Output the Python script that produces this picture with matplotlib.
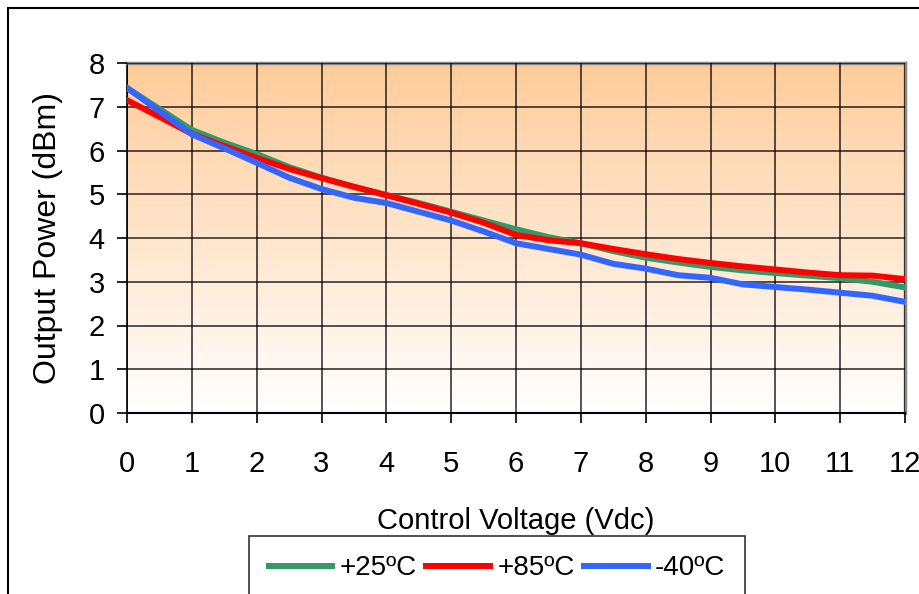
import matplotlib.pyplot as plt
import numpy as np
from matplotlib.patches import Rectangle

plt.rcParams['font.family'] = ['Liberation Sans', 'DejaVu Sans']

# control voltage, step 0.5 V
volts = [0, 0.5, 1, 1.5, 2, 2.5, 3, 3.5, 4, 4.5, 5, 5.5, 6, 6.5, 7, 7.5, 8, 8.5,
         9, 9.5, 10, 10.5, 11, 11.5, 12]
p_25 = [7.43, 6.95, 6.47, 6.18, 5.92, 5.62, 5.38, 5.17, 4.98, 4.80, 4.60, 4.40,
        4.20, 4.02, 3.88, 3.70, 3.55, 3.44, 3.34, 3.26, 3.20, 3.14, 3.08, 3.00, 2.87]
p_85 = [7.15, 6.77, 6.38, 6.10, 5.83, 5.58, 5.37, 5.17, 4.98, 4.78, 4.58, 4.35,
        4.07, 3.95, 3.88, 3.75, 3.63, 3.52, 3.43, 3.35, 3.28, 3.21, 3.15, 3.14, 3.06]
p_m40 = [7.43, 6.90, 6.37, 6.05, 5.72, 5.38, 5.12, 4.92, 4.80, 4.60, 4.40, 4.15,
         3.88, 3.75, 3.62, 3.41, 3.30, 3.15, 3.09, 2.94, 2.88, 2.82, 2.75, 2.68, 2.54]
labels = ['+25ºC', '+85ºC', '-40ºC']
colors = ['#339966', '#FF0000', '#3366FF']

W, H = 919, 594
fig = plt.figure(figsize=(W / 100, H / 100), dpi=100)
ax = fig.add_axes([127 / W, 1 - 413 / H, (905 - 127) / W, (413 - 63) / H])

# outer chart border (cut off on right and bottom)
fig.patches.append(Rectangle((8 / W, -0.1), 1.2, 1.1 - 8 / H, transform=fig.transFigure,
                             fill=False, edgecolor='black', linewidth=1.5, zorder=0))

# orange (top) to white (bottom) gradient background
grad = np.linspace(0, 1, 256).reshape(-1, 1)
top = np.array([1.0, 0.80, 0.60])
img = top[None, None, :] * (1 - grad[:, :, None]) + np.ones(3)[None, None, :] * grad[:, :, None]
ax.imshow(img, extent=[0, 12, 0, 8], origin='upper', aspect='auto', zorder=0)

ax.set_xlim(0, 12)
ax.set_ylim(0, 8)
ax.set_xticks(range(0, 13))
ax.set_yticks(range(0, 9))
ax.grid(True, color='black', linewidth=1.1, alpha=0.85, zorder=1)
ax.set_axisbelow(False)

for series, lab, c in zip([p_25, p_85, p_m40], labels, colors):
    ax.plot(volts, series, color=c, linewidth=4.3, label=lab, zorder=3, solid_joinstyle='round')

ax.spines['top'].set_color('#888888')
ax.spines['right'].set_color('#888888')
ax.spines['top'].set_linewidth(2.5)
ax.spines['right'].set_linewidth(2.5)
ax.spines['left'].set_linewidth(1.2)
ax.spines['bottom'].set_linewidth(1.5)
ax.tick_params(direction='out', length=7, width=1.2, labelsize=21)
ax.tick_params(axis='y', pad=9)
ax.tick_params(axis='x', pad=20)

ax.set_ylabel('Output Power (dBm)', fontsize=23)
ax.yaxis.set_label_coords(-64 / 778, 0.5)
fig.text(516 / W, 1 - 521 / H, 'Control Voltage (Vdc)', fontsize=21, ha='center', va='center')

leg = fig.legend(loc='upper center', bbox_to_anchor=(497 / W, 1 - 536 / H), ncol=3,
                 fontsize=20, frameon=True, fancybox=False, handlelength=2.3,
                 handletextpad=0.25, columnspacing=0.35, borderpad=0.7,
                 borderaxespad=0)
leg.get_frame().set_edgecolor('black')
leg.get_frame().set_linewidth(1.2)
for line in leg.get_lines():
    line.set_linewidth(4.3)

fig.savefig('out.png', dpi=100)
